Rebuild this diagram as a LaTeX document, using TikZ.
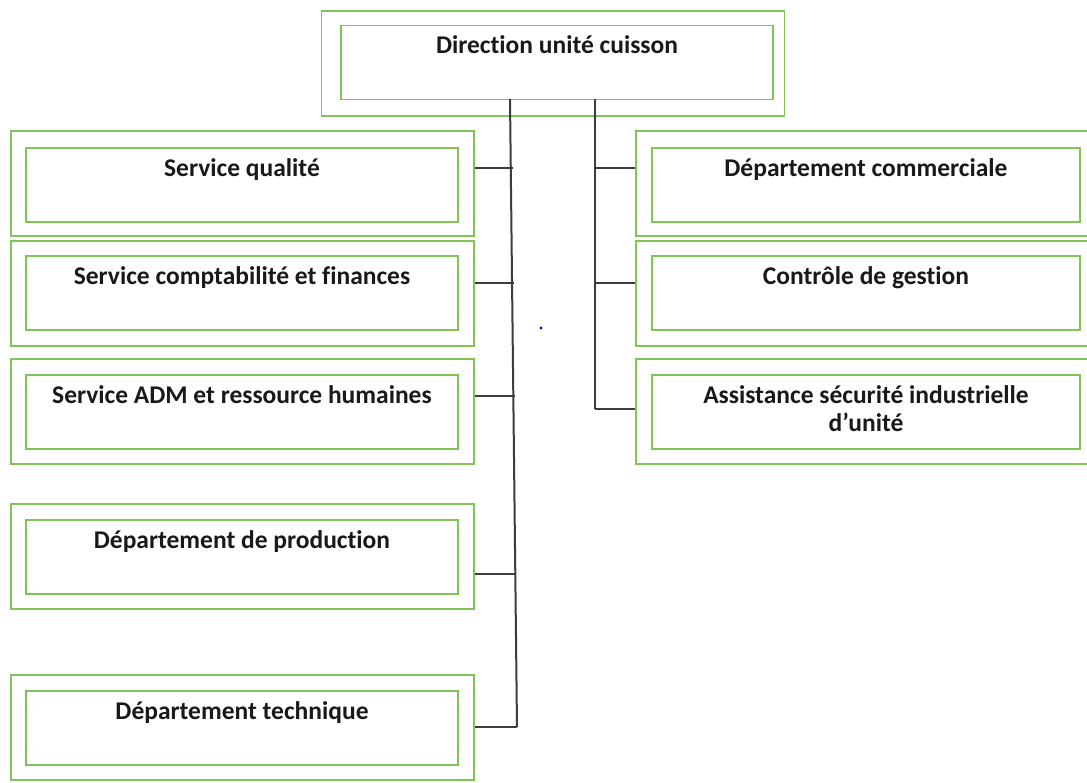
\documentclass[tikz,border=0pt]{standalone}
\usepackage{fontspec}
\setmainfont{Carlito}[Ligatures=NoCommon]
\usetikzlibrary{calc}
\definecolor{boxgreen}{RGB}{128,196,88}
\definecolor{linkgray}{RGB}{60,60,60}
\definecolor{txt}{RGB}{25,25,25}
\tikzset{
  outerbox/.style={draw=boxgreen, line width=1.8pt, rectangle, inner sep=0pt,
    minimum width=463pt, minimum height=105pt},
  innerbox/.style={draw=boxgreen, line width=1.8pt, rectangle, inner sep=0pt,
    minimum width=432pt, minimum height=74pt},
  lbl/.style={font=\fontsize{25.5}{28}\selectfont\bfseries, text=txt, align=center,
    inner sep=0pt, anchor=north},
  link/.style={draw=linkgray, line width=2pt}
}
\begin{document}
\begin{tikzpicture}[x=1pt,y=-1pt]
\useasboundingbox (0,0) rectangle (1087,783);
\clip (0,0) rectangle (1087,783);
\fill[white] (0,0) rectangle (1087,783);

% head of the unit
\node[outerbox] (top) at (553,63.5) {};
\node[innerbox] (topi) at (557,62.5) {};
\node[lbl] (topt) at ([yshift=-11pt]topi.north) {Direction unité cuisson};

% left column
\node[outerbox] (sq) at (242.5,183.5) {};
\node[innerbox] (sqi) at (242,185) {};
\node[lbl] (sqt) at ([yshift=-11pt]sqi.north) {Service qualité};

\node[outerbox] (scf) at (242.5,293.5) {};
\node[innerbox] (scfi) at (242,293) {};
\node[lbl] (scft) at ([yshift=-11pt]scfi.north) {Service comptabilité et finances};

\node[outerbox] (sadm) at (242.5,411.5) {};
\node[innerbox] (sadmi) at (242,412) {};
\node[lbl] (sadmt) at ([yshift=-11pt]sadmi.north) {Service ADM et ressource humaines};

\node[outerbox] (dp) at (242.5,556.5) {};
\node[innerbox] (dpi) at (242,557) {};
\node[lbl] (dpt) at ([yshift=-11pt]dpi.north) {Département de production};

\node[outerbox] (dt) at (242.5,727.5) {};
\node[innerbox] (dti) at (242,728) {};
\node[lbl] (dtt) at ([yshift=-11pt]dti.north) {Département technique};

% right column
\node[outerbox, minimum width=470pt] (dc) at (871,183.5) {};
\node[innerbox, minimum width=428pt] (dci) at (866,185) {};
\node[lbl] (dct) at ([yshift=-11pt]dci.north) {Département commerciale};

\node[outerbox, minimum width=470pt] (cg) at (871,293.5) {};
\node[innerbox, minimum width=428pt] (cgi) at (866,293) {};
\node[lbl] (cgt) at ([yshift=-11pt]cgi.north) {Contrôle de gestion};

\node[outerbox, minimum width=470pt] (as) at (871,411.5) {};
\node[innerbox, minimum width=428pt] (asi) at (866,412) {};
\node[lbl] (ast) at ([yshift=-11pt]asi.north) {Assistance sécurité industrielle\\d’unité};

% spines
\coordinate (lspineA) at (510,99);
\coordinate (lspineB) at (517,727);
\coordinate (rspineA) at (595,99);
\coordinate (rspineB) at (595,409);
\draw[link] (lspineA) -- (lspineB);
\draw[link] (rspineA) -- (rspineB);

% junctions on the left spine
\coordinate (jsq) at (513,168);
\coordinate (jscf) at (514,283);
\coordinate (jsadm) at (514.5,396);
\coordinate (jdp) at (516,574);
\coordinate (jdt) at (517,727);
\foreach \b/\j in {sq/jsq, scf/jscf, sadm/jsadm, dp/jdp, dt/jdt}
  \draw[link] (\j) -- (\j -| \b.east);

% junctions on the right spine
\coordinate (jdc) at (595,168);
\coordinate (jcg) at (595,283);
\coordinate (jas) at (595,409);
\foreach \b/\j in {dc/jdc, cg/jcg, as/jas}
  \draw[link] (\j) -- (\j -| \b.west);

% stray dot
\fill[blue!80!black] (541,328) circle (1.6pt);
\end{tikzpicture}
\end{document}
